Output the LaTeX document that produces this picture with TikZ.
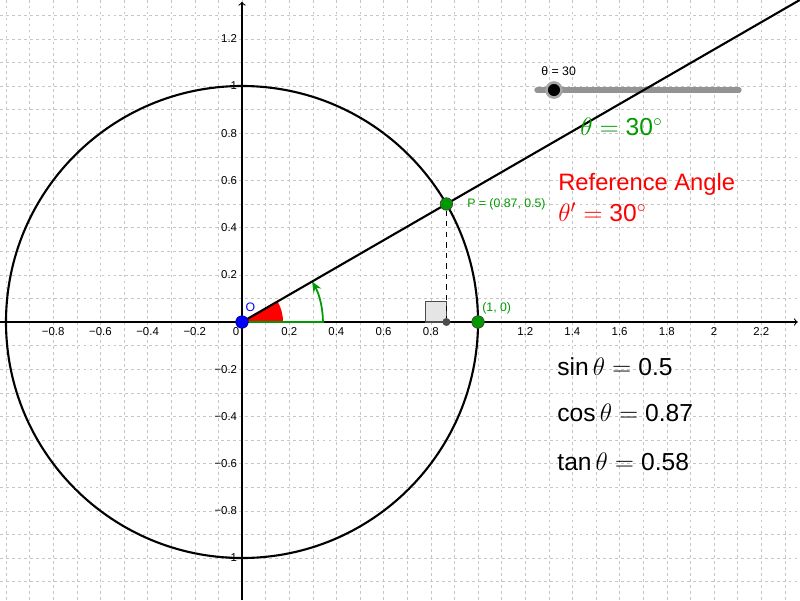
\documentclass[tikz,border=0pt]{standalone}
\usepackage{fontspec}
\setmainfont{Liberation Sans}
\usetikzlibrary{arrows,arrows.meta,positioning}
\definecolor{ggbgreen}{RGB}{0,153,0}
\definecolor{ggbblue}{RGB}{0,0,255}

\begin{document}
\begin{tikzpicture}[x=4.72cm,y=4.72cm,>=stealth,
    gridline/.style={gray!45, very thin, dash pattern=on 1.6pt off 1.8pt},
    axis/.style={black, line width=0.6pt, ->, >=to},
    curve/.style={black, line width=1.2pt},
    pt/.style={shape=circle, draw=black!75, inner sep=0pt, minimum size=0.25cm},
    ticklbl/.style={font=\fontsize{6.5}{7}\selectfont, inner sep=1pt},
    small/.style={font=\fontsize{7}{8}\selectfont, inner sep=0pt, anchor=west},
    big/.style={font=\fontsize{14}{16}\selectfont, inner sep=0pt, anchor=west},
    ]
    \useasboundingbox (-1.02542,-1.17797) rectangle (2.36441,1.36441);
	% grid and axes
	\draw[gridline] (-1.02542,-1.17797) grid[step=0.1] (2.36441,1.36441);
	\draw[axis] (-1.02542,0) -- (2.355,0);
	\draw[axis] (0,-1.17797) -- (0,1.357);
	\foreach \x/\t in {-0.8/−0.8,-0.6/−0.6,-0.4/−0.4,-0.2/−0.2,0.2/0.2,0.4/0.4,0.6/0.6,0.8/0.8,1.2/1.2,1.4/1.4,1.6/1.6,1.8/1.8,2/2,2.2/2.2}
	    \node[ticklbl] at (\x,-0.042) {\t};
	\node[ticklbl] at (-0.025,-0.042) {0};
	\foreach \y/\t in {1.2/1.2,1/1,0.8/0.8,0.6/0.6,0.4/0.4,0.2/0.2,-0.2/−0.2,-0.4/−0.4,-0.6/−0.6,-0.8/−0.8,-1/−1}
	    \node[ticklbl, anchor=east] at (-0.012,\y) {\t};

	% slider
	\draw[gray!85, line width=3pt, line cap=round] (1.25,0.983) -- (2.106,0.983);
	\node (knob)[shape=circle, fill=black, draw=gray!70, line width=1.5pt, inner sep=0pt, minimum size=0.3cm] at (1.322,0.983) {};
	\node (slbl)[small] at (1.267,1.064) {θ = 30};

	% circle, angle marks and ray
	\coordinate (O) at (0,0);
	\coordinate (F) at (0.866,0);
	\draw[curve] (O) circle (1);
	\fill[red] (O) -- (0.174,0) arc (0:30:0.174) -- cycle;
	\draw[ggbgreen, line width=1pt, -{Stealth[length=6pt,width=5pt]}] (O) -- (0.343,0) arc (0:30:0.343);
	\draw[curve] (O) -- (30:2.7288);
	\draw[fill=gray!20, draw=black!70, line width=0.6pt] (0.778,0) rectangle (F |- 0,0.088);
	\node (P)[pt, fill=ggbgreen] at (0.866,0.5) {};
	\draw[dashed, line width=0.6pt] (P) -- (F);
	\node (Fpt)[shape=circle, fill=black!70, inner sep=0pt, minimum size=0.16cm] at (F) {};
	\node (A)[pt, fill=ggbgreen] at (1,0) {};
	\node (Opt)[pt, fill=ggbblue, draw=ggbblue!60!black] at (O) {};
	\node (Olbl)[small, ggbblue, anchor=center] at (0.036,0.064) {O};
	\node (Plbl)[small, ggbgreen] at (0.953,0.5) {P = (0.87, 0.5)};
	\node (Albl)[small, ggbgreen] at (1.017,0.057) {(1, 0)};

	% texts
	\node (theta)[big, ggbgreen] at (1.432,0.826) {$\theta =$ 30$^\circ$};
	\node (refang)[big, red, font=\fontsize{13.5}{16}\selectfont] at (1.339,0.585) {Reference Angle};
	\node (thetap)[big, red] at (1.339,0.466) {$\theta' =$ 30$^\circ$};
	\node (sinv)[big] at (1.335,-0.191) {sin\,$\theta =$ 0.5};
	\node (cosv)[big] at (1.335,-0.386) {cos\,$\theta =$ 0.87};
	\node (tanv)[big] at (1.335,-0.593) {tan\,$\theta =$ 0.58};
\end{tikzpicture}
\end{document}
